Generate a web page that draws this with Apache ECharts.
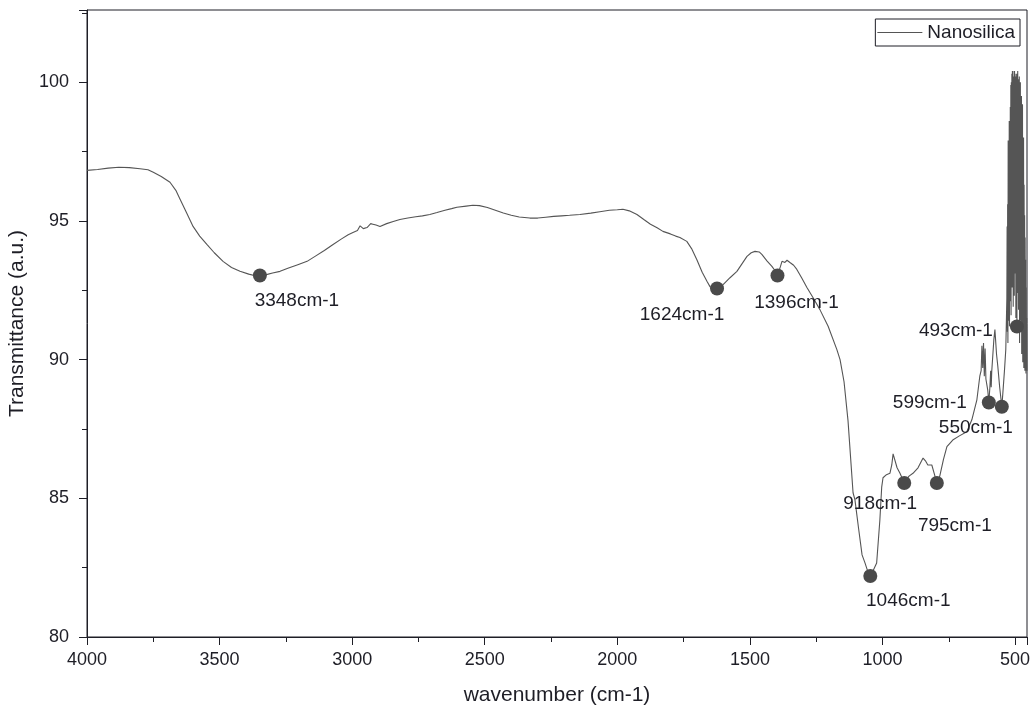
<!DOCTYPE html>
<html><head><meta charset="utf-8">
<script src="https://cdn.jsdelivr.net/npm/echarts@6/dist/echarts.min.js"></script>
<style>html,body{margin:0;padding:0;background:#fff}#c{width:1032px;height:711px}</style>
</head><body><div id="c"></div>
<script>
// ---- data ----
const wavenumber = [
 4000,3960,3920,3880,3840,3800,3770,3750,3720,3687,3665,3649,3625,3600,3575,3548,3520,3487,3455,3423,
 3390,3365,3348,3320,3300,3272,3240,3205,3170,3140,3105,3072,3040,3015,2997,2980,2970,2958,2944,2930,
 2922,2910,2895,2870,2845,2820,2790,2760,2735,2707,2680,2650,2625,2605,2570,2545,2520,2490,2460,2430,
 2400,2370,2330,2300,2270,2240,2210,2180,2141,2100,2066,2030,2000,1979,1955,1926,1900,1875,1850,1828,
 1800,1780,1764,1738,1720,1700,1680,1662,1650,1640,1624,1601,1575,1549,1530,1511,1495,1481,1465,1455,
 1435,1417,1405,1396,1385,1379,1368,1360,1349,1335,1323,1305,1285,1260,1236,1205,1172,1160,1145,1130,
 1111,1104,1090,1077,1066,1055,1046,1035,1022,1010,1003,998,985,972,965,960,955,945,934,918,
 900,885,866,847,838,829,814,805,795,784,770,757,735,710,682,663,644,633,628,625,
 622,619,616,613,610,607,603,599,595,592,590,588,580,576,570,565,558,550,546,540,
 535,
 531,530,529,528,527,526,525,524,523,522,521,520,519,518,517,516,515,514,513,512,
 511,510,509,508,507,506,505,504,503,502,501,500,499,498,497,496,495,494,493,492,
 491,490,489,488,487,486,485,484,483,482,481,480,479,478,477,476,475,474,473,472,
 471,470,469,468,467,466,465,464,463,462,461,460,459,458,457,456,455
];
const transmittance = [
 96.82,96.85,96.90,96.93,96.92,96.88,96.84,96.75,96.60,96.39,96.10,95.78,95.30,94.80,94.45,94.15,93.85,93.54,93.32,93.18,
 93.08,93.02,93.03,93.07,93.12,93.18,93.30,93.42,93.54,93.72,93.93,94.15,94.35,94.50,94.58,94.65,94.82,94.72,94.76,94.90,
 94.88,94.85,94.80,94.90,94.98,95.05,95.10,95.15,95.18,95.23,95.30,95.38,95.44,95.49,95.53,95.56,95.55,95.48,95.38,95.28,
 95.20,95.14,95.10,95.10,95.13,95.16,95.18,95.20,95.23,95.28,95.33,95.38,95.40,95.42,95.36,95.23,95.05,94.88,94.75,94.62,
 94.53,94.45,94.40,94.26,94.00,93.60,93.15,92.82,92.62,92.56,92.56,92.70,92.95,93.18,93.45,93.72,93.85,93.90,93.88,93.79,
 93.55,93.36,93.20,93.03,93.35,93.54,93.50,93.58,93.50,93.40,93.25,92.95,92.60,92.20,91.80,91.20,90.36,90.00,89.20,87.80,
 85.20,84.95,83.90,82.96,82.67,82.35,82.20,82.40,82.67,84.20,85.40,85.74,85.85,85.90,86.20,86.60,86.60,86.10,85.90,85.55,
 85.80,85.90,86.10,86.45,86.35,86.20,86.20,85.90,85.55,85.80,86.40,86.86,87.10,87.25,87.40,87.83,88.55,89.40,89.60,90.50,
 89.70,90.60,89.40,90.40,89.30,89.28,88.90,88.45,89.00,89.60,89.00,89.57,90.72,91.08,90.20,89.75,89.00,88.30,88.80,89.60,
 90.36,
 92.20,94.80,91.00,95.60,90.60,97.90,91.40,96.50,92.00,98.60,91.20,98.00,93.20,99.10,92.10,99.90,91.60,100.00,94.00,100.30,
 92.60,100.40,95.00,100.40,91.90,99.30,93.80,100.20,92.30,100.40,94.60,100.30,93.10,100.20,91.50,99.80,94.20,100.30,91.19,99.60,
 92.40,100.40,93.60,100.10,91.80,99.40,94.80,100.20,90.60,99.90,92.90,100.00,91.40,98.80,93.70,99.50,90.20,98.40,92.10,99.20,
 89.90,97.20,91.60,98.00,89.70,96.30,90.80,95.20,89.60,94.40,90.40,93.60,89.50,92.60,89.80,91.50,89.60
];
const peakWavenumbers = [3348, 1624, 1396, 1046, 918, 795, 599, 550, 493];
const peakValues = [93.03, 92.56, 93.03, 82.20, 85.55, 85.55, 88.45, 88.30, 91.19];
const peakLabels = ['3348cm-1','1624cm-1','1396cm-1','1046cm-1','918cm-1','795cm-1','599cm-1','550cm-1','493cm-1'];
const seriesName = 'Nanosilica';
const xAxisTitle = 'wavenumber (cm-1)';
const yAxisTitle = 'Transmittance (a.u.)';

// ---- layout / style (not data) ----
const labelOffsets = [[37,25],[-35,26],[19,27],[38,25],[-24,21],[18,43],[-59,0],[-26,21],[-61,4]];
const ink = '#1e1e26';

const lineData = wavenumber.map((w, i) => [w, transmittance[i]]);
const peakData = peakWavenumbers.map((w, i) => ({
  value: [w, peakValues[i]],
  label: { offset: labelOffsets[i] }
}));

const chart = echarts.init(document.getElementById('c'), null, {renderer: 'canvas'});
chart.setOption({
  animation: false,
  backgroundColor: '#fff',
  textStyle: { fontFamily: 'Liberation Sans, Arial, sans-serif' },
  grid: { left: 87, right: 5, top: 10, bottom: 74, containLabel: false, outerBoundsMode: 'none',
          show: true, borderColor: ink, borderWidth: 1, backgroundColor: 'transparent' },
  legend: {
    data: [{ name: seriesName, icon: 'rect' }],
    right: 12, top: 19,
    borderColor: ink, borderWidth: 1, borderRadius: 0,
    padding: [4, 5, 4, 2],
    itemWidth: 45, itemHeight: 1,
    itemStyle: { color: '#555' },
    textStyle: { fontSize: 19, color: ink }
  },
  xAxis: {
    type: 'value', inverse: true, min: 455, max: 4000,
    splitNumber: 7, minInterval: 500, maxInterval: 500,
    name: xAxisTitle, nameLocation: 'middle', nameGap: 48,
    nameTextStyle: { fontSize: 21, color: ink },
    axisLine: { show: true, lineStyle: { color: ink, width: 1 } },
    axisTick: { show: true, length: 8, inside: false, lineStyle: { color: ink } },
    minorTick: { show: true, splitNumber: 2, length: 5, lineStyle: { color: ink } },
    splitLine: { show: false },
    axisLabel: { fontSize: 18, color: ink, margin: 14,
      formatter: v => (v % 500 === 0 ? String(v) : '') }
  },
  yAxis: {
    type: 'value', min: 80, max: 102.6, interval: 5,
    name: yAxisTitle, nameLocation: 'middle', nameGap: 52,
    nameTextStyle: { fontSize: 21, color: ink },
    axisLine: { show: true, lineStyle: { color: ink, width: 1 } },
    axisTick: { show: true, length: 8, inside: false, lineStyle: { color: ink } },
    minorTick: { show: true, splitNumber: 2, length: 5, lineStyle: { color: ink } },
    splitLine: { show: false },
    axisLabel: { fontSize: 18, color: ink, margin: 18,
      formatter: v => (v % 5 === 0 ? String(v) : '') }
  },
  series: [
    {
      name: seriesName, type: 'line', data: lineData,
      symbol: 'none', showSymbol: false,
      lineStyle: { color: '#555', width: 1.1 },
      itemStyle: { color: '#555' },
      z: 2
    },
    {
      name: 'peaks', type: 'scatter', data: peakData,
      symbol: 'circle', symbolSize: 14,
      itemStyle: { color: '#4a4a4a', opacity: 1 },
      label: {
        show: true, position: 'inside',
        formatter: p => peakLabels[p.dataIndex],
        fontSize: 19, color: ink, opacity: 1, textBorderWidth: 0
      },
      emphasis: { disabled: true },
      z: 3
    }
  ]
});
</script>
</body></html>
